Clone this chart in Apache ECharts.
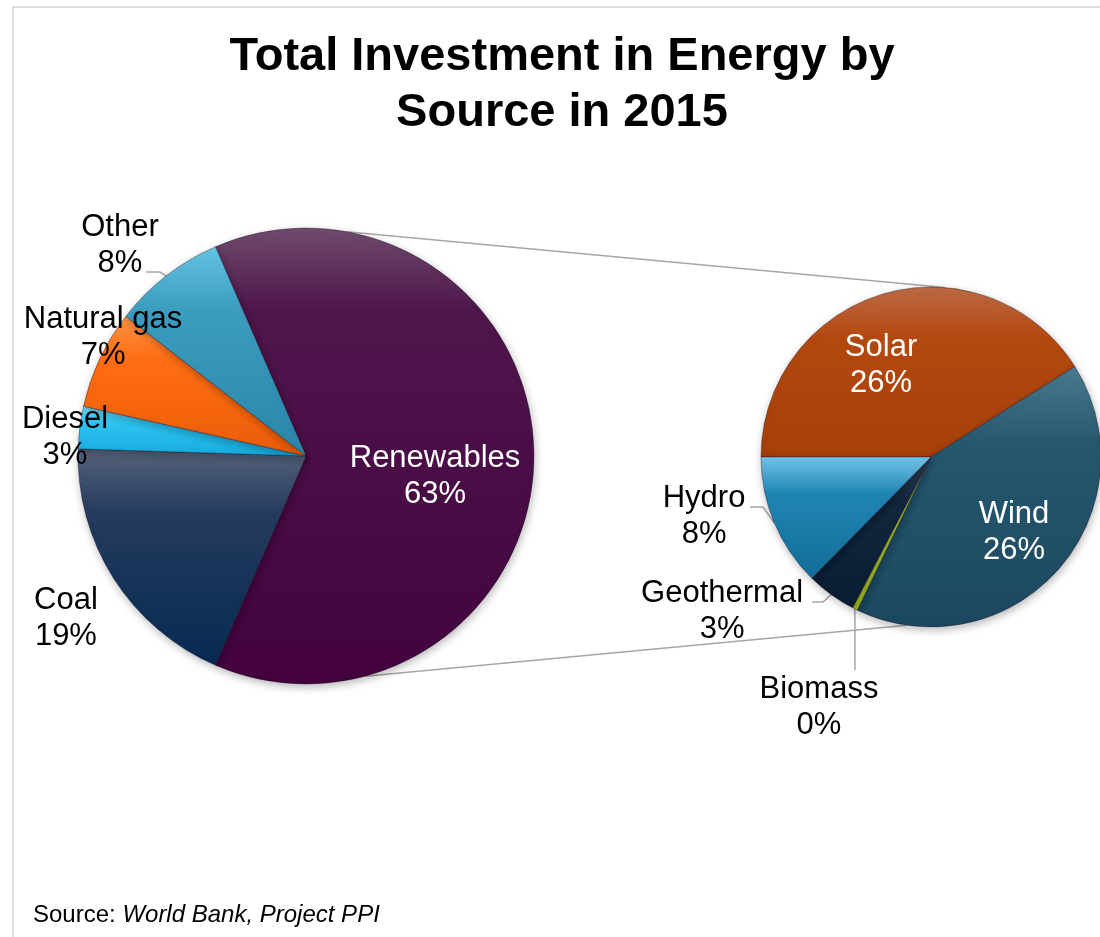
<!DOCTYPE html>
<html>
<head>
<meta charset="utf-8">
<script src="https://cdn.jsdelivr.net/npm/echarts@6/dist/echarts.min.js"></script>
<style>
  html, body { margin: 0; padding: 0; background: #ffffff; }
  #chart { width: 1100px; height: 937px; }
</style>
</head>
<body>
<div id="chart"></div>
<script>
// ---- data ----
const titleLines = ['Total Investment in Energy by', 'Source in 2015'];
const sourcePrefix = 'Source: ';
const sourceName = 'World Bank, Project PPI';

const energyCategories = ['Renewables', 'Coal', 'Diesel', 'Natural gas', 'Other'];
const energyShares = [63, 19, 3, 7, 8];

const renewableCategories = ['Solar', 'Wind', 'Biomass', 'Geothermal', 'Hydro'];
const renewableShares = [26, 26, 0.3, 3, 8];

// ---- layout & style ----
const FONT = '"Liberation Sans", Arial, Helvetica, sans-serif';
const mainPie = { cx: 306, cy: 456, r: 228 };
const subPie = { cx: 931, cy: 457, r: 170 };
const total = (arr) => arr.reduce((a, b) => a + b, 0);
// the split slice (first one) is centred on the 3 o'clock direction
const mainStart = energyShares[0] / total(energyShares) * 180;
const subStart = 180;

// three-stop vertical shading per slice: light rim, body, dark base
const shades = {
  'Renewables': ['#704c6e', '#4f164c', '#43023e'],
  'Coal': ['#56637b', '#253b5d', '#062a52'],
  'Diesel': ['#7ae0f8', '#2fc5f1', '#16abdf'],
  'Natural gas': ['#ff9445', '#ff6e14', '#ec5c07'],
  'Other': ['#66c4e4', '#3c9dc1', '#2a86a8'],
  'Solar': ['#bd6a45', '#b4490f', '#a63f09'],
  'Wind': ['#4a7a8f', '#26576e', '#1b4860'],
  'Biomass': ['#cde656', '#b8d636', '#a2c11d'],
  'Geothermal': ['#2e405b', '#12273f', '#091c31'],
  'Hydro': ['#74c4ea', '#2085b3', '#126d98']
};
const shadeSplit = { 'Renewables': 0.18 };
const lightText = ['Renewables', 'Solar', 'Wind'];

// label centres, as offsets from the pie centre in units of its radius
const labelSpots = {
  'Renewables': [0.566, 0.088],
  'Coal': [-1.053, 0.711],
  'Diesel': [-1.057, -0.083],
  'Natural gas': [-0.890, -0.522],
  'Other': [-0.816, -0.925],
  'Solar': [-0.294, -0.541],
  'Wind': [0.488, 0.441],
  'Hydro': [-1.335, 0.347],
  'Geothermal': [-1.229, 0.906],
  'Biomass': [-0.659, 1.476]
};

// leader lines: start offset from the label centre (px) and horizontal run before bending to the slice
const leaders = [
  { pie: 'main', name: 'Other', from: [26, 27], run: 14 },
  { pie: 'sub', name: 'Hydro', from: [46, -9], run: 13 },
  { pie: 'sub', name: 'Geothermal', from: [90, -9], run: 11 },
  { pie: 'sub', name: 'Biomass', drop: 38 }
];

// connector lines between the pies, angles clockwise from 12 o'clock
const bridges = [
  { from: 10.3, to: 4.7 },
  { from: 165, to: 188 }
];

function gradient(name) {
  const s = shades[name];
  const mid = shadeSplit[name] || 0.3;
  return {
    type: 'linear', x: 0, y: 0, x2: 0, y2: 1,
    colorStops: [
      { offset: 0, color: s[0] },
      { offset: mid, color: s[1] },
      { offset: 1, color: s[2] }
    ]
  };
}

function buildData(cats, vals) {
  return cats.map((name, i) => ({
    name: name,
    value: vals[i],
    itemStyle: { color: gradient(name) },
    label: { color: lightText.indexOf(name) >= 0 ? '#ffffff' : '#000000' }
  }));
}

function labelCentre(pie, name) {
  const s = labelSpots[name];
  return [pie.cx + s[0] * pie.r, pie.cy + s[1] * pie.r];
}

function placer(pie, cats) {
  return function (p) {
    const c = labelCentre(pie, cats[p.dataIndex]);
    return { x: c[0], y: c[1], align: 'center', verticalAlign: 'middle' };
  };
}

// point on the rim at the middle of slice i
function rimPoint(pie, start, vals, i) {
  const sum = total(vals);
  const before = total(vals.slice(0, i));
  const a = (start - (before + vals[i] / 2) / sum * 360) * Math.PI / 180;
  return [pie.cx + pie.r * Math.cos(a), pie.cy - pie.r * Math.sin(a)];
}

function clockPoint(pie, deg) {
  const a = deg * Math.PI / 180;
  return [pie.cx + pie.r * Math.sin(a), pie.cy - pie.r * Math.cos(a)];
}

const lineStyle = { stroke: '#a6a6a6', lineWidth: 1.5, fill: null };
const graphics = [];

// chart area frame
graphics.push({
  type: 'rect', z: 0,
  shape: { x: 13, y: 7, width: 1200, height: 1000 },
  style: { fill: null, stroke: '#dcdcdc', lineWidth: 2 }
});

bridges.forEach((b) => {
  const p1 = clockPoint(mainPie, b.from);
  const p2 = clockPoint(subPie, b.to);
  graphics.push({ type: 'polyline', z: 1, shape: { points: [p1, p2] }, style: lineStyle });
});

leaders.forEach((l) => {
  const isMain = l.pie === 'main';
  const pie = isMain ? mainPie : subPie;
  const cats = isMain ? energyCategories : renewableCategories;
  const vals = isMain ? energyShares : renewableShares;
  const start = isMain ? mainStart : subStart;
  const idx = cats.indexOf(l.name);
  const rim = rimPoint(pie, start, vals, idx);
  const c = labelCentre(pie, l.name);
  let pts;
  if (l.drop) {
    pts = [rim, [rim[0], c[1] - l.drop]];
  } else {
    const s = [c[0] + l.from[0], c[1] + l.from[1]];
    pts = [s, [s[0] + l.run, s[1]], rim];
  }
  graphics.push({ type: 'polyline', z: 1, shape: { points: pts }, style: lineStyle });
});

graphics.push({
  type: 'text', z: 10,
  style: {
    text: titleLines.join('\n'),
    x: 562, y: 29,
    align: 'center', verticalAlign: 'top',
    font: 'bold 47px ' + FONT,
    lineHeight: 56,
    fill: '#000000'
  }
});

graphics.push({
  type: 'text', z: 10,
  style: {
    text: sourcePrefix + '{i|' + sourceName + '}',
    x: 33, y: 915,
    align: 'left', verticalAlign: 'middle',
    font: '24px ' + FONT,
    fill: '#000000',
    rich: { i: { fontStyle: 'italic', fontSize: 24, fontFamily: FONT, fill: '#000000' } }
  }
});

const commonSeries = {
  type: 'pie',
  clockwise: true,
  avoidLabelOverlap: false,
  animation: false,
  itemStyle: {
    borderColor: 'rgba(20,10,30,0.35)',
    borderWidth: 1,
    shadowBlur: 8,
    shadowColor: 'rgba(0,0,0,0.28)',
    shadowOffsetX: 1,
    shadowOffsetY: 3
  },
  label: {
    show: true,
    position: 'inside',
    fontFamily: FONT,
    fontSize: 31,
    lineHeight: 36,
    formatter: (p) => p.name + '\n' + Math.round(p.value) + '%'
  },
  labelLine: { show: false },
  emphasis: { disabled: true }
};

const chart = echarts.init(document.getElementById('chart'), null, { renderer: 'canvas' });
chart.setOption({
  backgroundColor: '#ffffff',
  graphic: { elements: graphics },
  series: [
    Object.assign({}, commonSeries, {
      name: 'Energy source',
      center: [mainPie.cx, mainPie.cy],
      radius: mainPie.r,
      startAngle: mainStart,
      data: buildData(energyCategories, energyShares),
      labelLayout: placer(mainPie, energyCategories)
    }),
    Object.assign({}, commonSeries, {
      name: 'Renewables',
      center: [subPie.cx, subPie.cy],
      radius: subPie.r,
      startAngle: subStart,
      data: buildData(renewableCategories, renewableShares),
      labelLayout: placer(subPie, renewableCategories)
    })
  ]
});
</script>
</body>
</html>
